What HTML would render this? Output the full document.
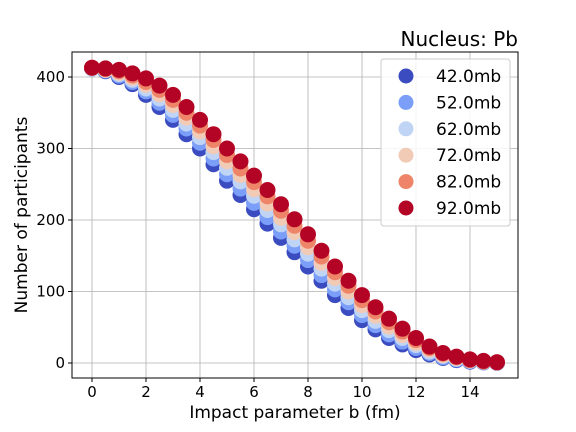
<!DOCTYPE html>
<html><head><meta charset="utf-8"><style>
body{margin:0;background:#fff;}
svg{display:block;font-family:"DejaVu Sans","Liberation Sans",sans-serif;}
</style></head><body>
<svg id="chart" width="576" height="432">
<g id="grid"></g>
<g id="marks"></g>
<rect x="72" y="52" width="446" height="326" fill="none" stroke="#000" stroke-width="1"/>
<g id="ticks"></g>
<text x="518" y="46" text-anchor="end" font-size="20">Nucleus: Pb</text>
<text x="295" y="418" text-anchor="middle" font-size="17">Impact parameter b (fm)</text>
<text transform="translate(27,215) rotate(-90)" text-anchor="middle" font-size="17">Number of participants</text>
<g id="legend"></g>
</svg>
<script>
const bValues=[0,0.5,1,1.5,2,2.5,3,3.5,4,4.5,5,5.5,6,6.5,7,7.5,8,8.5,9,9.5,10,10.5,11,11.5,12,12.5,13,13.5,14,14.5,15];
const seriesNames=["42.0mb","52.0mb","62.0mb","72.0mb","82.0mb","92.0mb"];
const s42=[412,408,400,390,375,358,340,320,300,278,255,235,215,195,175,155,135,115,95,77,60,47,35,26,18,12,7,4,2,1,0];
const s52=[412,409,402,393,380,364,347,328,308,286,264,244,224,204,184,164,144,123,103,85,67,53,40,30,21,14,8,5,3,1,0];
const s62=[412,410,404,396,384,370,354,335,316,295,273,254,234,214,194,173,153,132,111,92,74,59,46,35,25,16,10,6,3,2,0];
const s72=[413,410,406,399,389,376,361,343,324,303,282,263,243,223,203,183,162,140,119,100,81,66,51,39,28,19,11,7,4,2,1];
const s82=[413,411,408,402,393,382,368,350,332,312,291,272,253,233,213,192,171,149,127,108,88,72,57,44,32,21,13,8,4,2,1];
const s92=[413,412,410,405,398,388,375,358,340,320,300,282,262,242,222,201,180,157,135,115,95,78,62,48,35,23,14,9,5,3,1];
const xTicks=[0,2,4,6,8,10,12,14];
const yTicks=[0,100,200,300,400];
const colors=["#3b4cc0","#7b9ff9","#c0d4f5","#f2cbb7","#ee8468","#b40426"];
const allSeries=[s42,s52,s62,s72,s82,s92];
const NS="http://www.w3.org/2000/svg";
function X(v){return 92+v*27;}
function Y(v){return 363-v*0.715;}
function mk(tag,attrs,parent){const e=document.createElementNS(NS,tag);for(const k in attrs)e.setAttribute(k,attrs[k]);parent.appendChild(e);return e;}
const grid=document.getElementById('grid'),ticks=document.getElementById('ticks'),marks=document.getElementById('marks'),legend=document.getElementById('legend');
xTicks.forEach(t=>{
 const g=mk('line',{x1:X(t),x2:X(t),y1:52,y2:378,stroke:'#b0b0b0','stroke-width':0.8},grid);
 
 
 mk('line',{x1:X(t),x2:X(t),y1:378,y2:382,stroke:'#000'},ticks);
 const l=mk('text',{x:X(t),y:397,'text-anchor':'middle','font-size':15},ticks);
 l.textContent=t;
 
 
});
yTicks.forEach(t=>{
 const g=mk('line',{x1:72,x2:518,y1:Y(t),y2:Y(t),stroke:'#b0b0b0','stroke-width':0.8},grid);
 
 
 mk('line',{x1:68,x2:72,y1:Y(t),y2:Y(t),stroke:'#000'},ticks);
 const l=mk('text',{x:65,y:Y(t)+5,'text-anchor':'end','font-size':15},ticks);
 l.textContent=t;
 
 
});
allSeries.forEach((s,i)=>{
 s.forEach((v,j)=>{
  const c=mk('circle',{cx:X(bValues[j]),cy:Y(v),r:8,fill:colors[i]},marks);
  
  
 });
});
const lb=mk('rect',{x:381,y:59,width:129,height:167,rx:3,fill:'#fff','fill-opacity':0.85,stroke:'#ccc'},legend);


seriesNames.forEach((n,i)=>{
 const y=76+i*26.4;
 const c=mk('circle',{cx:406,cy:y,r:7.5,fill:colors[i]},legend);
 
 
 const t=mk('text',{x:436,y:y+6,'font-size':17},legend);
 t.textContent=n;
 
 
});
</script>
</body></html>
